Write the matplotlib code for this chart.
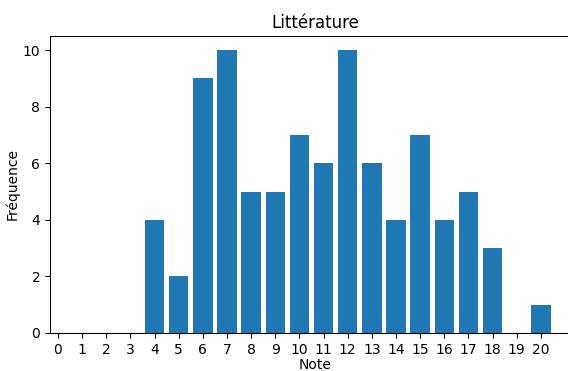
import matplotlib.pyplot as plt
import numpy as np

notes = np.arange(0, 21)
frequences = [0, 0, 0, 0, 4, 2, 9, 10, 5, 5, 7, 6, 10, 6, 4, 7, 4, 5, 3, 0, 1]

fig = plt.figure(figsize=(5.68, 3.71), dpi=100)
ax = fig.add_axes([50 / 568, 38 / 371, 530 / 568, 297 / 371])

ax.bar(notes, frequences, color='#1f77b4')
ax.set_xticks(notes)
ax.set_xlim(-0.33, 21.62)
ax.set_ylim(0, 10.5)

ax.set_xlabel('Note', labelpad=1)
ax.set_ylabel('Fréquence', labelpad=2)
ax.set_title('Littérature')

fig.savefig('out.png', dpi=100)
